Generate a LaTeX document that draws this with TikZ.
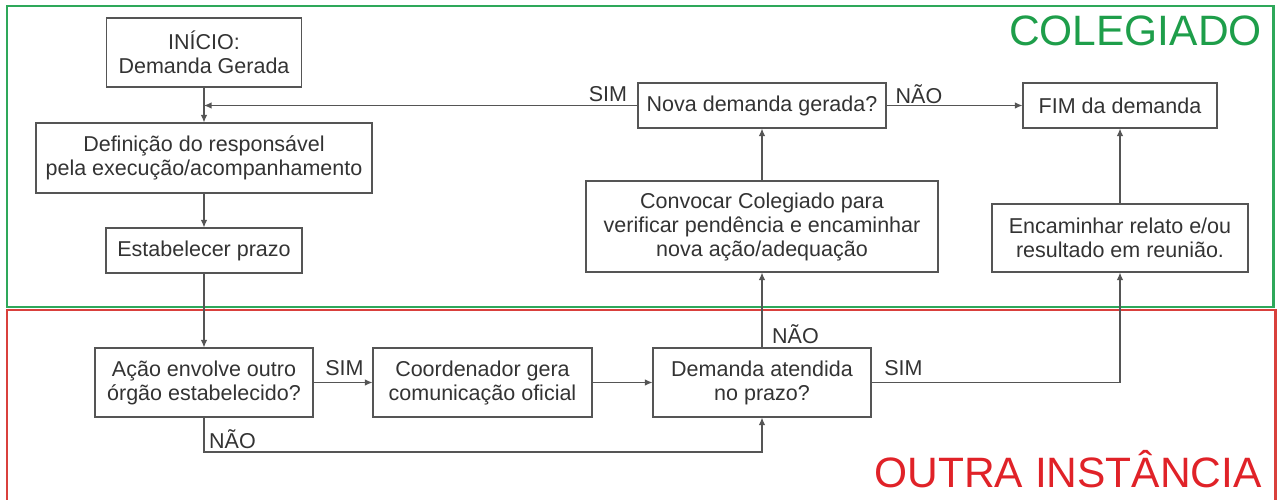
\documentclass[tikz,border=0pt]{standalone}
\usepackage{fontspec}
\setmainfont{Liberation Sans}
\usetikzlibrary{arrows.meta}
\definecolor{txt}{HTML}{333333}
\definecolor{ln}{HTML}{555555}
\definecolor{grn}{HTML}{2EA85A}
\definecolor{grntxt}{HTML}{1E9E4A}
\definecolor{rd}{HTML}{D9403C}
\definecolor{rdtxt}{HTML}{E02228}
\tikzset{
  box/.style={draw=ln, line width=1.1pt, text=txt, align=center, inner sep=0pt,
    font=\fontsize{21.5}{24}\selectfont},
  lbl/.style={text=txt, inner sep=0pt, font=\fontsize{21.5}{24}\selectfont},
  conn/.style={draw=ln, line width=1.1pt},
  arr/.style={conn, -{Latex[length=7.5pt,width=6.5pt]}},
  title/.style={inner sep=0pt, font=\fontsize{42.5}{48}\selectfont}
}
\begin{document}
\begin{tikzpicture}[x=1pt,y=-1pt]
\useasboundingbox (0,0) rectangle (1277,499);
% frames
\draw[rd, line width=2.4pt] (7,510) -- (7,310) -- (1275.5,310) -- (1275.5,510);
\draw[grn, line width=2.4pt] (7,6) rectangle (1273.5,307);
\node[title, text=grntxt, anchor=base east] (tcol) at (1262,45) {COLEGIADO};
\node[title, text=rdtxt, anchor=base east] (tout) at (1262,487) {OUTRA INSTÂNCIA};
% boxes
\node[box, minimum width=195, minimum height=69] (ini) at (204,52.5) {INÍCIO:\\Demanda Gerada};
\node[box, minimum width=336, minimum height=70] (def) at (204,158) {Definição do responsável\\pela execução/acompanhamento};
\node[box, minimum width=196, minimum height=45] (est) at (204,250.5) {Estabelecer prazo};
\node[box, minimum width=248, minimum height=45] (nova) at (762,105.5) {Nova demanda gerada?};
\node[box, minimum width=194, minimum height=45] (fim) at (1120,105.5) {FIM da demanda};
\node[box, minimum width=352, minimum height=91] (conv) at (762,226.5) {Convocar Colegiado para\\verificar pendência e encaminhar\\nova ação/adequação};
\node[box, minimum width=256, minimum height=68] (enc) at (1120,238) {Encaminhar relato e/ou\\resultado em reunião.};
\node[box, minimum width=218, minimum height=69] (acao) at (204,382.5) {Ação envolve outro\\órgão estabelecido?};
\node[box, minimum width=219, minimum height=69] (coord) at (482.5,382.5) {Coordenador gera\\comunicação oficial};
\node[box, minimum width=218, minimum height=69] (dem) at (762,382.5) {Demanda atendida\\no prazo?};
% connectors
\draw[arr] (ini.south) -- (def.north);
\draw[arr] (def.south) -- (est.north);
\draw[arr] (est.south) -- (acao.north);
\draw[arr] (nova.west) -- (nova.west -| ini.south);
\draw[arr] (nova.east) -- (fim.west);
\draw[arr] (conv.north) -- (nova.south);
\draw[arr] (enc.north) -- (fim.south);
\draw[arr] (acao.east) -- (coord.west);
\draw[arr] (coord.east) -- (dem.west);
\coordinate (n1) at (acao.south |- 0,452);
\coordinate (n2) at (dem.south |- 0,452);
\draw[arr] (acao.south) -- (n1) -- (n2) -- (dem.south);
\draw[arr] (dem.north) -- (conv.south);
\coordinate (s1) at (dem.east -| enc.south);
\draw[arr] (dem.east) -- (s1) -- (enc.south);
% labels
\node[lbl] (l1) at (608,94) {SIM};
\node[lbl] (l2) at (919,94) {NÃO};
\node[lbl] (l3) at (344.5,368) {SIM};
\node[lbl] (l4) at (232.5,439) {NÃO};
\node[lbl] (l5) at (795.5,334) {NÃO};
\node[lbl] (l6) at (903.5,368) {SIM};
\end{tikzpicture}
\end{document}
